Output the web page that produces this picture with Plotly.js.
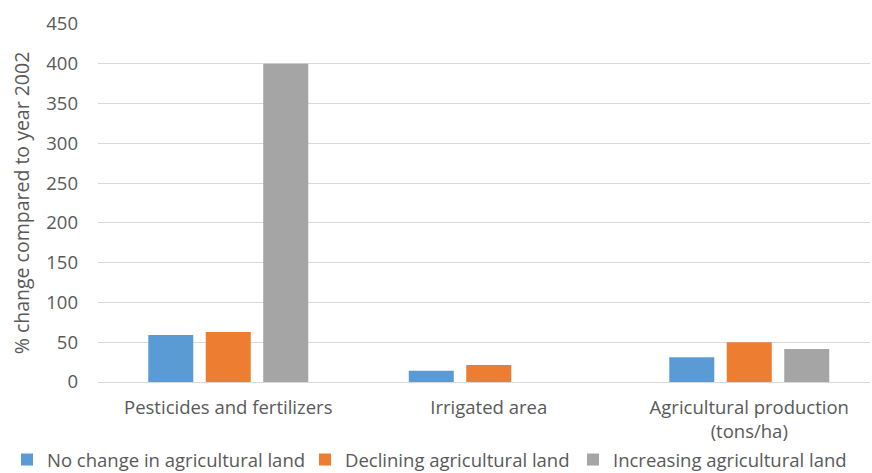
<!DOCTYPE html>
<html>
<head>
<meta charset="utf-8">
<script src="https://cdn.plot.ly/plotly-3.0.1.min.js"></script>
<style>html,body{margin:0;padding:0;background:#fff;}#chart{width:872px;height:473px;}</style>
</head>
<body>
<div id="chart"></div>
<script>
const categories = ["Pesticides and fertilizers", "Irrigated area", "Agricultural production<br>(tons/ha)"];
const seriesNames = ["No change in agricultural land", "Declining agricultural land", "Increasing agricultural land"];
const noChange = [59, 14, 31];
const declining = [63, 21.5, 50];
const increasing = [400, 0, 41.5];
const yTicks = [0, 50, 100, 150, 200, 250, 300, 350, 400, 450];

const colors = ["#5B9BD5", "#ED7D31", "#A5A5A5"];
const legendIds = ["legend", "legend2", "legend3"];
const legendLeftPx = [7, 305, 573];
const values = [noChange, declining, increasing];
const textColor = "#595959";
const font = "'Open Sans', 'Liberation Sans', sans-serif";
const W = 872, H = 473;

const traces = values.map((v, i) => ({
  type: "bar",
  x: categories,
  y: v,
  name: seriesNames[i],
  marker: {color: colors[i]},
  legend: legendIds[i],
  hoverinfo: "skip"
}));

const layout = {
  width: W, height: H,
  margin: {l: 98, r: 2, t: 24, b: 91},
  paper_bgcolor: "#fff", plot_bgcolor: "#fff",
  barmode: "group",
  bargap: 0.338,
  bargroupgap: 0.217,
  font: {family: font, color: textColor, size: 18.5},
  xaxis: {
    type: "category",
    range: [-0.5, 2.4635],
    showgrid: false, zeroline: false, showline: false,
    ticks: "",
    ticklabelstandoff: 12,
    tickfont: {size: 18.5, color: textColor},
    fixedrange: true
  },
  yaxis: {
    range: [0, 450],
    tickvals: yTicks,
    showgrid: true, gridcolor: "#D9D9D9", gridwidth: 1,
    zeroline: true, zerolinecolor: "#D9D9D9", zerolinewidth: 1,
    showline: false, ticks: "",
    ticklabelstandoff: 19,
    tickfont: {size: 18.5, color: textColor},
    title: {text: "% change compared to year 2002", font: {size: 19.5, color: textColor}, standoff: 11},
    fixedrange: true
  },
  showlegend: true
};

legendIds.forEach((id, i) => {
  layout[id] = {
    orientation: "h",
    xref: "container", yref: "container",
    x: legendLeftPx[i] / W, xanchor: "left",
    y: (H - 460) / H, yanchor: "middle",
    font: {size: 18.5, color: textColor},
    bgcolor: "rgba(0,0,0,0)"
  };
});

Plotly.newPlot("chart", traces, layout, {displayModeBar: false, staticPlot: true});
</script>
</body>
</html>
